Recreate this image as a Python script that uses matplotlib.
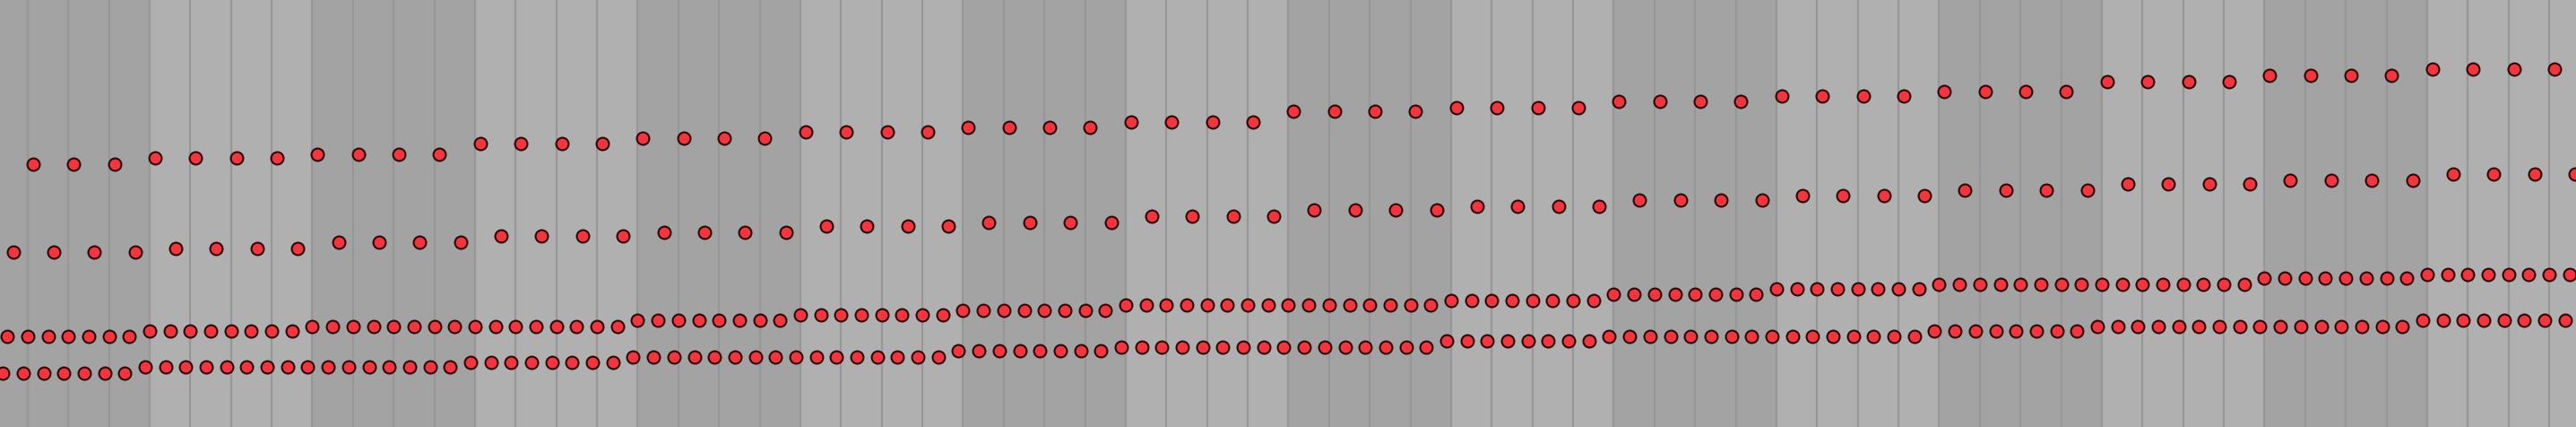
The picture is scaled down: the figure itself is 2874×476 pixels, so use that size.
import matplotlib
import numpy as np

matplotlib.use("Agg")
import matplotlib.pyplot as plt  # noqa: E402

# time axis in beats, one band = one 4-beat bar
N_BARS = 16
BAR_LEN = 4
X_VIEW = (0.32, 63.66)

# level held through each bar (height above the bottom edge, px units), one value per bar
ROW1_LEVELS = [293.3, 300.3, 304.3, 315.7, 322.3, 329.3, 333.7, 340.3,
               351.7, 356.3, 363.0, 369.3, 374.0, 385.3, 391.7, 398.7]
ROW2_LEVELS = [195.0, 199.3, 206.0, 212.7, 217.3, 224.0, 228.3, 235.3,
               242.0, 246.3, 253.0, 257.7, 264.3, 271.0, 275.3, 282.3]
ROW3_LEVELS = [100.7, 107.3, 111.7, 111.7, 118.7, 125.3, 129.7, 136.3,
               136.3, 141.0, 147.7, 154.3, 158.7, 158.7, 165.7, 170.3]
ROW4_LEVELS = [60.3, 67.0, 67.0, 71.7, 78.3, 78.3, 85.0, 89.3,
               89.3, 96.0, 100.7, 100.7, 107.3, 111.7, 111.7, 118.7]

# (levels, onset offset in beats, note step in beats)
ROWS = [
    (ROW1_LEVELS, 0.13, 1.0),
    (ROW2_LEVELS, 0.64, 1.0),
    (ROW3_LEVELS, 0.0, 0.5),
    (ROW4_LEVELS, -0.11, 0.5),
]

DARK = "#a3a3a3"
LIGHT = "#b0b0b0"
GRID = "#979797"
FILL = "#f5353d"
EDGE = "#2a0808"


def main() -> None:
    fig = plt.figure(figsize=(28.74, 4.76), dpi=100)
    ax = fig.add_axes([0, 0, 1, 1])
    ax.set_facecolor(LIGHT)

    for bar in range(N_BARS):
        start = bar * BAR_LEN
        ax.axvspan(start, start + BAR_LEN, color=DARK if bar % 2 == 0 else LIGHT,
                   lw=0, zorder=0)
    for beat in range(N_BARS * BAR_LEN + 1):
        ax.axvline(beat, color=GRID, lw=1.6, zorder=1)

    for levels, offset, step in ROWS:
        per_bar = int(BAR_LEN / step)
        xs, ys = [], []
        for bar, level in enumerate(levels):
            for j in range(per_bar):
                xs.append(bar * BAR_LEN + offset + j * step)
                ys.append(level)
        ax.plot(xs, ys, ls="none", marker="o", ms=10.0, mfc=FILL, mec=EDGE,
                mew=1.5, zorder=3)

    ax.set_xlim(*X_VIEW)
    ax.set_ylim(0, 476)
    ax.axis("off")
    fig.savefig("out.png", dpi=100)
    plt.close(fig)


if __name__ == "__main__":
    main()
